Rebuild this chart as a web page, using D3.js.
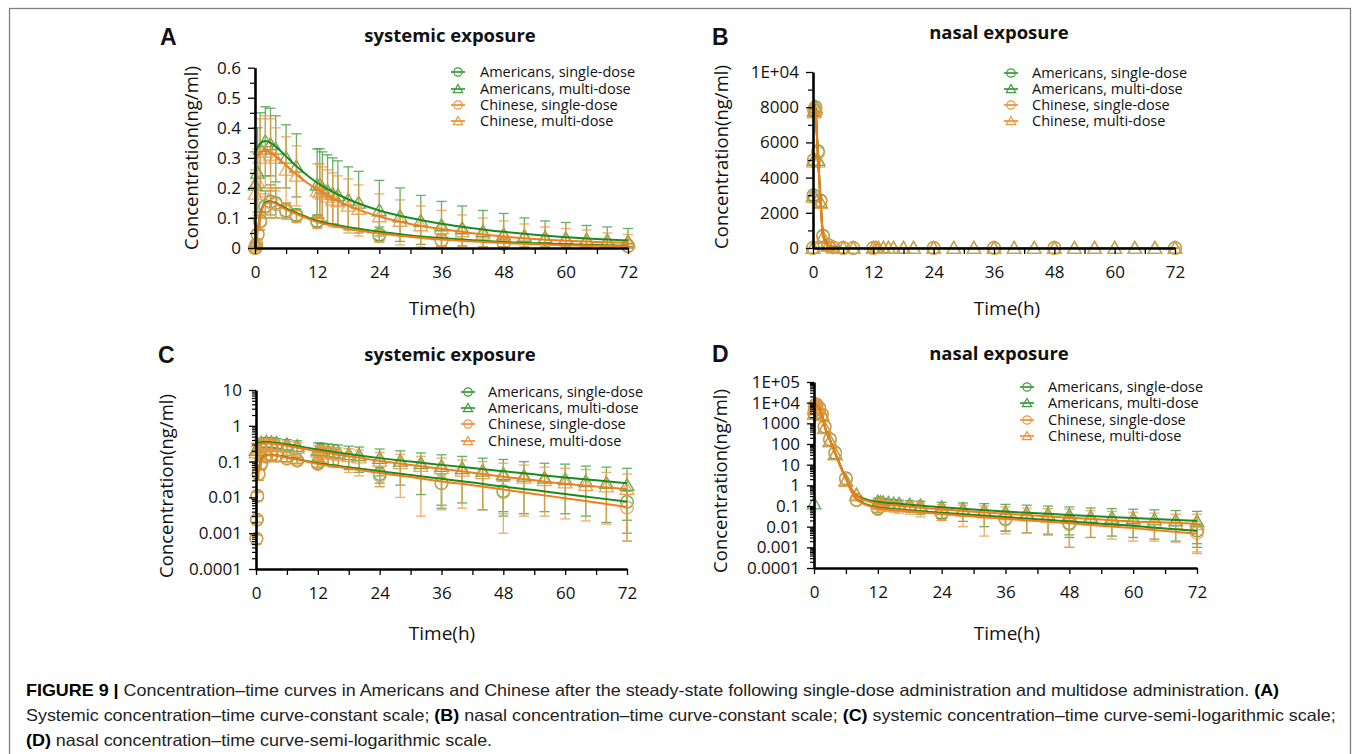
<!DOCTYPE html>
<html><head><meta charset="utf-8">
<script src="https://cdn.jsdelivr.net/npm/d3@7"></script>
<style>body{margin:0;background:#fff}svg{display:block}</style>
</head><body><svg id="c" width="1355" height="754"></svg>
<script>
// ---------- data ----------
const seriesNames = ["Americans, single-dose","Americans, multi-dose","Chinese, single-dose","Chinese, multi-dose"];
const xTicks = [0,12,24,36,48,60,72];
const xMinorTicks = [6,18,30,42,54,66];

// systemic observations
const sysTimeSingle = [0,0.083,0.167,0.25,0.5,1,2,3,4,6,8,12,24,36,48,72];
const sysAmSingle   = [0,0.0007,0.0024,0.011,0.045,0.09,0.14,0.155,0.15,0.125,0.11,0.09,0.045,0.025,0.015,0.0075];
const sysAmSingleHi = [0,0.0009,0.003,0.014,0.06,0.12,0.19,0.21,0.2,0.15,0.13,0.11,0.07,0.045,0.03,0.015];
const sysAmSingleLo = [0,0.0005,0.002,0.008,0.03,0.06,0.1,0.11,0.1,0.1,0.09,0.07,0.025,0.006,0.004,0.001];
const sysCnSingle   = [0,0.0007,0.0024,0.011,0.045,0.085,0.135,0.15,0.145,0.12,0.105,0.085,0.04,0.025,0.014,0.0052];
const sysCnSingleHi = [0,0.0009,0.003,0.014,0.06,0.11,0.18,0.2,0.19,0.145,0.125,0.105,0.06,0.04,0.028,0.012];
const sysCnSingleLo = [0,0.0005,0.002,0.008,0.03,0.06,0.1,0.1,0.1,0.095,0.085,0.065,0.02,0.0045,0.001,0.0006];

const sysTimeMulti = [0,0.5,1,2,3,4,6,8,12,12.5,13,14,15,16,18,20,24,28,32,36,40,44,48,52,56,60,64,68,72];
const sysAmMulti   = [0.21,0.25,0.33,0.355,0.345,0.33,0.3,0.27,0.21,0.21,0.2,0.19,0.18,0.175,0.16,0.15,0.125,0.105,0.09,0.075,0.065,0.055,0.045,0.04,0.035,0.032,0.028,0.025,0.022];
const sysAmMultiHi = [0.32,0.4,0.45,0.47,0.465,0.44,0.41,0.38,0.33,0.33,0.32,0.31,0.3,0.29,0.27,0.255,0.225,0.2,0.175,0.155,0.14,0.125,0.115,0.1,0.09,0.085,0.075,0.07,0.065];
const sysAmMultiLo = [0.1,0.12,0.2,0.24,0.24,0.22,0.2,0.17,0.1,0.1,0.09,0.08,0.08,0.07,0.06,0.05,0.04,0.022,0.012,0.005,0.007,0.0045,0.003,0.0035,0.004,0.0035,0.003,0.002,0.0023];
const sysCnMulti   = [0.18,0.22,0.3,0.32,0.31,0.3,0.26,0.24,0.19,0.185,0.18,0.17,0.16,0.155,0.14,0.13,0.105,0.09,0.075,0.065,0.055,0.047,0.04,0.035,0.03,0.026,0.022,0.02,0.017];
const sysCnMultiHi = [0.26,0.33,0.43,0.44,0.43,0.4,0.37,0.34,0.28,0.28,0.27,0.26,0.25,0.24,0.23,0.21,0.18,0.16,0.14,0.125,0.11,0.1,0.09,0.08,0.07,0.065,0.06,0.05,0.045];
const sysCnMultiLo = [0.1,0.11,0.17,0.2,0.19,0.2,0.15,0.14,0.1,0.09,0.09,0.08,0.07,0.07,0.05,0.04,0.02,0.01,0.003,0.006,0.005,0.0045,0.0035,0.003,0.003,0.0025,0.0022,0.0018,0.0006];

// systemic model lines
const sysLineTime = [0,0.25,0.5,1,1.5,2,3,4,6,8,10,12,16,20,24,30,36,42,48,54,60,66,72];
const sysAmSingleLine = [0,0.03,0.06,0.11,0.14,0.152,0.155,0.15,0.132,0.117,0.103,0.09,0.076,0.064,0.054,0.042,0.033,0.026,0.02,0.016,0.0124,0.0097,0.0076];
const sysCnSingleLine = [0,0.03,0.058,0.105,0.135,0.148,0.152,0.147,0.128,0.113,0.099,0.086,0.071,0.058,0.048,0.037,0.028,0.022,0.0165,0.0125,0.0095,0.0072,0.0054];
const sysAmMultiLine  = [0.32,0.325,0.333,0.347,0.354,0.356,0.35,0.338,0.305,0.272,0.243,0.217,0.178,0.148,0.125,0.1,0.081,0.066,0.054,0.044,0.036,0.03,0.025];
const sysCnMultiLine  = [0.295,0.3,0.307,0.317,0.322,0.324,0.318,0.305,0.275,0.245,0.218,0.195,0.156,0.127,0.105,0.08,0.063,0.049,0.038,0.03,0.024,0.02,0.017];

// nasal observations
const nasTimeSingle = [0,0.083,0.167,0.25,0.5,1,1.5,2,3,4,6,8,12,24,36,48,72];
const nasAmSingle   = [0,3000,5000,7800,8000,5500,2700,700,170,38,2.2,0.2,0.075,0.045,0.024,0.015,0.0065];
const nasAmSingleHi = [null,null,null,null,null,null,null,null,null,null,null,null,0.11,0.07,0.045,0.03,0.013];
const nasAmSingleLo = [null,null,null,null,null,null,null,null,null,null,null,null,0.05,0.025,0.006,0.004,0.001];
const nasCnSingle   = [0,2900,5000,7900,7900,5400,2650,650,160,35,2.0,0.19,0.07,0.04,0.022,0.013,0.005];
const nasCnSingleHi = [null,null,null,null,null,null,null,null,null,null,null,null,0.1,0.06,0.04,0.028,0.011];
const nasCnSingleLo = [null,null,null,null,null,null,null,null,null,null,null,null,0.045,0.02,0.0045,0.001,0.0005];

const nasTimeMulti = [0,0.083,0.167,0.25,0.5,1,1.5,2,3,4,6,8,12,12.5,13,14,15,16,18,20,24,28,32,36,40,44,48,52,56,60,64,68,72];
const nasAmMulti   = [0.13,3000,5000,7800,8000,5000,2600,600,140,33,1.7,0.35,0.16,0.155,0.15,0.14,0.13,0.125,0.115,0.105,0.085,0.07,0.06,0.05,0.045,0.04,0.035,0.03,0.027,0.025,0.022,0.02,0.018];
const nasAmMultiHi = [null,null,null,null,null,null,null,null,null,null,null,null,0.24,0.23,0.22,0.21,0.2,0.19,0.18,0.17,0.15,0.14,0.13,0.12,0.11,0.1,0.09,0.08,0.075,0.07,0.065,0.06,0.055];
const nasAmMultiLo = [null,null,null,null,null,null,null,null,null,null,null,null,0.09,0.085,0.08,0.07,0.065,0.06,0.05,0.04,0.025,0.018,0.01,0.006,0.005,0.004,0.003,0.003,0.0035,0.003,0.0025,0.002,0.0015];
const nasCnMulti   = [0,2900,4900,7700,7900,4900,2550,580,130,31,1.6,0.32,0.13,0.125,0.12,0.115,0.11,0.1,0.095,0.085,0.07,0.058,0.048,0.04,0.034,0.03,0.026,0.022,0.02,0.017,0.015,0.014,0.013];
const nasCnMultiHi = [null,null,null,null,null,null,null,null,null,null,null,null,0.2,0.19,0.18,0.17,0.16,0.155,0.15,0.14,0.12,0.11,0.1,0.09,0.08,0.075,0.07,0.06,0.055,0.05,0.045,0.04,0.04];
const nasCnMultiLo = [null,null,null,null,null,null,null,null,null,null,null,null,0.07,0.065,0.06,0.055,0.05,0.045,0.04,0.03,0.02,0.01,0.0035,0.006,0.005,0.0045,0.001,0.003,0.0025,0.002,0.002,0.0018,0.0006];

// nasal model lines
const nasLineTime = [0,0.25,0.5,1,1.5,2,3,4,6,8,12,16,20,24,30,36,42,48,54,60,66,72];
const nasAmSingleLine = [8000,8200,7800,5200,2700,750,160,36,2.1,0.22,0.085,0.068,0.056,0.047,0.037,0.029,0.023,0.018,0.014,0.011,0.0082,0.0062];
const nasCnSingleLine = [8000,8200,7800,5100,2650,700,150,34,2.0,0.2,0.078,0.062,0.05,0.041,0.031,0.024,0.019,0.0145,0.011,0.0085,0.0062,0.0045];
const nasAmMultiLine  = [8000,8200,7800,5200,2700,750,160,36,2.3,0.32,0.16,0.128,0.105,0.087,0.068,0.054,0.044,0.037,0.031,0.026,0.022,0.019];
const nasCnMultiLine  = [8000,8200,7800,5100,2650,700,150,34,2.2,0.3,0.13,0.102,0.083,0.069,0.053,0.042,0.034,0.027,0.022,0.018,0.016,0.014];

// tick labels
const aTicks = [0,0.1,0.2,0.3,0.4,0.5,0.6];
const aTickLabels = ["0","0.1","0.2","0.3","0.4","0.5","0.6"];
const bTicks = [0,2000,4000,6000,8000,10000];
const bTickLabels = ["0","2000","4000","6000","8000","1E+04"];
const cTicks = [0.0001,0.001,0.01,0.1,1,10];
const cTickLabels = ["0.0001","0.001","0.01","0.1","1","10"];
const dTicks = [0.0001,0.001,0.01,0.1,1,10,100,1000,10000,100000];
const dTickLabels = ["0.0001","0.001","0.01","0.1","1","10","100","1000","1E+04","1E+05"];

// ---------- style ----------
const GREEN_M = "#3f9f3f", GREEN_L = "#1e8a1e";
const ORANGE_M = "#ee9840", ORANGE_L = "#f57c16";
const FONT = "'Open Sans', 'Noto Sans', sans-serif";

const svg = d3.select("#c");
svg.append("rect").attr("x",9.5).attr("y",8.5).attr("width",1341).attr("height",800)
  .attr("fill","none").attr("stroke","#808080").attr("stroke-width",1.3);

function mk(t, v, hi, lo){ return t.map((d,i)=>({t:d, v:v[i], hi:hi?hi[i]:null, lo:lo?lo[i]:null})); }
function ln(t, v){ return t.map((d,i)=>({t:d, v:v[i]})); }

const sysSeries = [
  {shape:"circle", mc:GREEN_M, lc:GREEN_L, pts:mk(sysTimeSingle,sysAmSingle,sysAmSingleHi,sysAmSingleLo), line:ln(sysLineTime,sysAmSingleLine)},
  {shape:"tri", mc:GREEN_M, lc:GREEN_L, pts:mk(sysTimeMulti,sysAmMulti,sysAmMultiHi,sysAmMultiLo), line:ln(sysLineTime,sysAmMultiLine)},
  {shape:"circle", mc:ORANGE_M, lc:ORANGE_L, pts:mk(sysTimeSingle,sysCnSingle,sysCnSingleHi,sysCnSingleLo), line:ln(sysLineTime,sysCnSingleLine)},
  {shape:"tri", mc:ORANGE_M, lc:ORANGE_L, pts:mk(sysTimeMulti,sysCnMulti,sysCnMultiHi,sysCnMultiLo), line:ln(sysLineTime,sysCnMultiLine)}
];
const nasSeries = [
  {shape:"circle", mc:GREEN_M, lc:GREEN_L, pts:mk(nasTimeSingle,nasAmSingle,nasAmSingleHi,nasAmSingleLo), line:ln(nasLineTime,nasAmSingleLine)},
  {shape:"tri", mc:GREEN_M, lc:GREEN_L, pts:mk(nasTimeMulti,nasAmMulti,nasAmMultiHi,nasAmMultiLo), line:ln(nasLineTime,nasAmMultiLine)},
  {shape:"circle", mc:ORANGE_M, lc:ORANGE_L, pts:mk(nasTimeSingle,nasCnSingle,nasCnSingleHi,nasCnSingleLo), line:ln(nasLineTime,nasCnSingleLine)},
  {shape:"tri", mc:ORANGE_M, lc:ORANGE_L, pts:mk(nasTimeMulti,nasCnMulti,nasCnMultiHi,nasCnMultiLo), line:ln(nasLineTime,nasCnMultiLine)}
];

function drawMarker(g, shape, cx, cy, s, color, sw){
  if(shape==="circle"){
    g.append("circle").attr("cx",cx).attr("cy",cy).attr("r",s).attr("fill","none")
      .attr("stroke",color).attr("stroke-width",sw);
  } else {
    const h = s*1.05;
    g.append("path").attr("d",`M${cx},${cy-h}L${cx+s*1.08},${cy+h*0.8}L${cx-s*1.08},${cy+h*0.8}Z`)
      .attr("fill","none").attr("stroke",color).attr("stroke-width",sw).attr("stroke-linejoin","miter");
  }
}

function logMinor(lo, hi){
  const out=[];
  for(let e=lo;e<hi;e++){ for(let k=2;k<=9;k++) out.push(k*Math.pow(10,e)); }
  return out;
}

function panel(p){
  const x = d3.scaleLinear().domain([0,72]).range([p.x0,p.x1]);
  const y = (p.log ? d3.scaleLog() : d3.scaleLinear()).domain(p.yDomain).range([p.yBot,p.yTop]);
  const g = svg.append("g");
  const ok = v => v!=null && (!p.log || v>0);

  const dl = g.append("g");
  p.series.forEach(s=>{
    const sg = dl.append("g");
    s.pts.forEach(d=>{
      if(!ok(d.v)) return;
      if(d.hi!=null && d.lo!=null){
        const lo = p.log ? d.lo : Math.max(0,d.lo);
        if(!ok(lo)) return;
        const X = x(d.t), y1 = y(d.hi), y2 = y(lo);
        const eg = sg.append("g").attr("stroke",s.mc).attr("stroke-width",1.3).attr("opacity",0.8);
        eg.append("line").attr("x1",X).attr("x2",X).attr("y1",y1).attr("y2",y2);
        eg.append("line").attr("x1",X-5).attr("x2",X+5).attr("y1",y1).attr("y2",y1);
        eg.append("line").attr("x1",X-5).attr("x2",X+5).attr("y1",y2).attr("y2",y2);
      }
    });
    const mg = sg.append("g").attr("opacity",0.85);
    s.pts.forEach(d=>{
      if(!ok(d.v)) return;
      drawMarker(mg, s.shape, x(d.t), y(d.v), 6.3, s.mc, 1.3);
    });
  });
  const line = d3.line().x(d=>x(d.t)).y(d=>y(d.v)).curve(d3.curveMonotoneX);
  p.series.forEach(s=>{
    dl.append("path").datum(s.line.filter(d=>ok(d.v))).attr("d",line)
      .attr("fill","none").attr("stroke",s.lc).attr("stroke-width",2);
  });

  const styleAx = sel => {
    sel.select(".domain").attr("stroke","#000").attr("stroke-width",2.6);
    sel.selectAll(".tick line").attr("stroke","#000").attr("stroke-width",1.3);
    sel.selectAll(".tick text").attr("fill","#111").style("font-family",FONT).style("font-size","17px");
  };
  g.append("g").attr("transform",`translate(0,${p.yBot})`)
    .call(d3.axisBottom(x).tickValues(xMinorTicks).tickSize(6).tickSizeOuter(0).tickFormat(""))
    .call(s=>{s.select(".domain").remove(); s.selectAll(".tick line").attr("stroke","#000").attr("stroke-width",1.3);});
  g.append("g").attr("transform",`translate(${p.x0},0)`)
    .call(d3.axisLeft(y).tickValues(p.yMinor).tickSize(p.log?4:5).tickSizeOuter(0).tickFormat(""))
    .call(s=>{s.select(".domain").remove(); s.selectAll(".tick line").attr("stroke","#000").attr("stroke-width",1.2);});
  g.append("g").attr("transform",`translate(0,${p.yBot})`)
    .call(d3.axisBottom(x).tickValues(xTicks).tickSize(6).tickPadding(12).tickSizeOuter(0))
    .call(styleAx);
  g.append("g").attr("transform",`translate(${p.x0},0)`)
    .call(d3.axisLeft(y).tickValues(p.yTicks).tickFormat((d,i)=>p.yLabels[i]).tickSize(7).tickPadding(7).tickSizeOuter(0))
    .call(styleAx);

  const T = (txt,xx,yy,size,weight,anchor,fam) => g.append("text").attr("x",xx).attr("y",yy).attr("dy","0.35em")
    .attr("text-anchor",anchor||"middle").style("font-family",fam||FONT).style("font-size",size+"px")
    .style("font-weight",weight||"normal").attr("fill","#111").text(txt);
  T(p.letter, p.letterX, p.letterY, 23, "bold", "start", "'Liberation Sans', Arial, sans-serif");
  T(p.title, p.titleX, p.titleY, 18.5, "bold");
  T("Time(h)", p.xlabX, p.xlabY, 19);
  g.append("text").attr("transform",`translate(${p.ylabX},${p.ylabY}) rotate(-90)`).attr("dy","0.35em")
    .attr("text-anchor","middle").style("font-family",FONT).style("font-size","18.5px").attr("fill","#111")
    .text("Concentration(ng/ml)");

  const lg = g.append("g");
  p.series.forEach((s,i)=>{
    const ly = p.legY[i];
    lg.append("line").attr("x1",p.legMX-7).attr("x2",p.legMX+7).attr("y1",ly).attr("y2",ly)
      .attr("stroke",s.lc).attr("stroke-width",1.5);
    drawMarker(lg, s.shape, p.legMX, ly, s.shape==="circle"?4.2:4.3, s.mc, 1.2);
    lg.append("text").attr("x",p.legTX).attr("y",ly).attr("dy","0.35em").style("font-family",FONT)
      .style("font-size","14.5px").attr("fill","#111").text(seriesNames[i]);
  });
}

const linMinor = (step, max) => d3.range(step/2, max, step);

panel({x0:255,x1:628,yTop:67.7,yBot:248,log:false,yDomain:[0,0.6],yTicks:aTicks,yLabels:aTickLabels,
  yMinor:linMinor(0.1,0.6),series:sysSeries,letter:"A",letterX:160,letterY:37,title:"systemic exposure",
  titleX:450,titleY:36,xlabX:442,xlabY:308,ylabX:192,ylabY:158,legMX:458,legTX:480,legY:[72,89,105,121]});
panel({x0:813,x1:1175,yTop:72,yBot:248,log:false,yDomain:[0,10000],yTicks:bTicks,yLabels:bTickLabels,
  yMinor:linMinor(2000,10000),series:nasSeries,letter:"B",letterX:712,letterY:37,title:"nasal exposure",
  titleX:999,titleY:33,xlabX:1007,xlabY:308,ylabX:722,ylabY:157,legMX:1011,legTX:1032,legY:[73,89,105,121]});
panel({x0:256,x1:627,yTop:390,yBot:569,log:true,yDomain:[0.0001,10],yTicks:cTicks,yLabels:cTickLabels,
  yMinor:logMinor(-4,1),series:sysSeries,letter:"C",letterX:158,letterY:355,title:"systemic exposure",
  titleX:450,titleY:355,xlabX:442,xlabY:633,ylabX:167,ylabY:486,legMX:468,legTX:488,legY:[392,408,424,441]});
panel({x0:814,x1:1197,yTop:382,yBot:568,log:true,yDomain:[0.0001,100000],yTicks:dTicks,yLabels:dTickLabels,
  yMinor:logMinor(-4,5),series:nasSeries,letter:"D",letterX:712,letterY:354,title:"nasal exposure",
  titleX:999,titleY:354,xlabX:1007,xlabY:633,ylabX:721,ylabY:481,legMX:1027,legTX:1048,legY:[387,403,420,436]});

// ---------- caption ----------
const captionLines = [
  [["FIGURE 9 | ",1],["Concentration–time curves in Americans and Chinese after the steady-state following single-dose administration and multidose administration. ",0],["(A)",1]],
  [["Systemic concentration–time curve-constant scale; ",0],["(B)",1],[" nasal concentration–time curve-constant scale; ",0],["(C)",1],[" systemic concentration–time curve-semi-logarithmic scale;",0]],
  [["(D)",1],[" nasal concentration–time curve-semi-logarithmic scale.",0]]
];
const captionWidths = [1254, 1296, null];
const captionY = [696, 721, 746];
const cap = svg.append("g");
const capTexts = captionLines.map((parts,i)=>{
  const t = cap.append("text").attr("y",captionY[i])
    .style("font-family","'Liberation Sans', Arial, sans-serif").style("font-size","16.5px")
    .attr("xml:space","preserve").attr("fill","#222");
  parts.forEach(([s,b])=>t.append("tspan").style("font-weight",b?"bold":"normal").attr("fill",b?"#000":"#222").text(s));
  return t;
});
// horizontal scale chosen so the first line spans its measured width
const r = captionWidths[0] / capTexts[0].node().getBBox().width;
cap.attr("transform",`scale(${r},1)`);
capTexts.forEach(t=>t.attr("x",26/r));
// second line justified with word spacing
{
  const t = capTexts[1], target = captionWidths[1]/r;
  const w0 = t.node().getBBox().width;
  t.style("word-spacing","4px");
  const w1 = t.node().getBBox().width;
  const per = (w1-w0)/4;
  const ws = per>0 ? Math.max(0, Math.min((target-w0)/per, 10)) : 0;
  t.style("word-spacing", ws+"px");
}
</script></body></html>
